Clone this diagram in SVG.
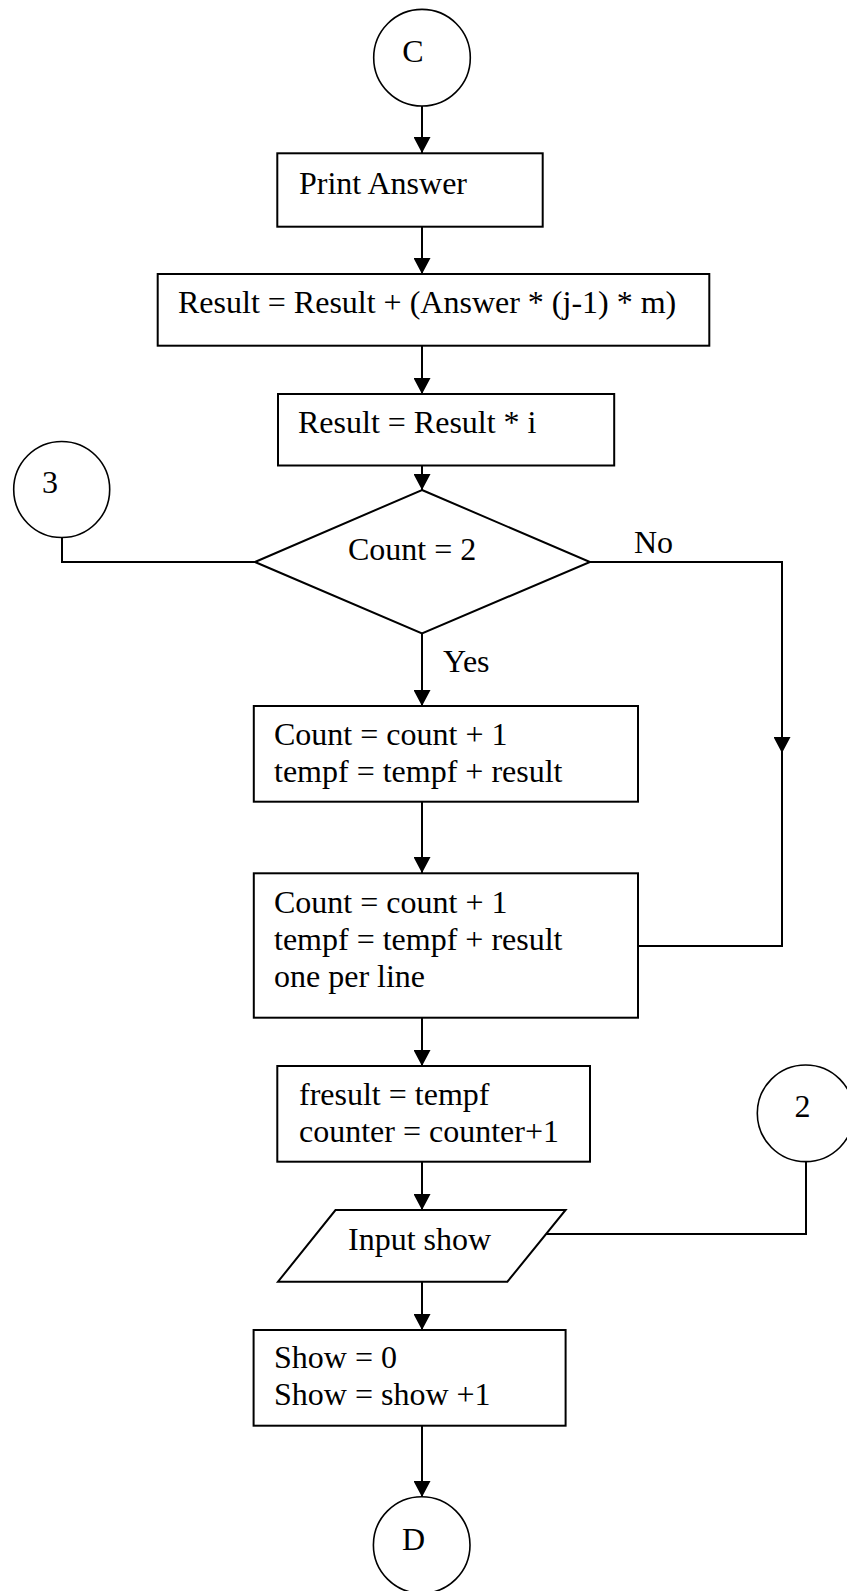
<svg xmlns="http://www.w3.org/2000/svg" width="847" height="1591" viewBox="0 0 847 1591">
  <style>
    .shape { fill: #ffffff; stroke: #000000; stroke-width: 2; }
    .conn { fill: none; stroke: #000000; stroke-width: 2; }
    .term { fill: #ffffff; stroke: #000000; stroke-width: 1.6; }
    text { font-family: "Liberation Serif", "Times New Roman", serif; font-size: 32px; fill: #000000; }
    .mid { text-anchor: middle; }
  </style>
  <defs>
    <marker id="arrow" markerUnits="userSpaceOnUse" markerWidth="16" markerHeight="17" refX="16" refY="8.5" orient="auto">
      <path d="M0,0 L16,8.5 L0,17 Z" fill="#000000"/>
    </marker>
  </defs>
  <rect width="847" height="1591" fill="#ffffff"/>

  <!-- connectors -->
  <g id="connectors">
    <line class="conn" x1="422" y1="106" x2="422" y2="153" marker-end="url(#arrow)"/>
    <line class="conn" x1="422" y1="227" x2="422" y2="274" marker-end="url(#arrow)"/>
    <line class="conn" x1="422" y1="346" x2="422" y2="394" marker-end="url(#arrow)"/>
    <line class="conn" x1="422" y1="466" x2="422" y2="490" marker-end="url(#arrow)"/>
    <line class="conn" x1="422" y1="633" x2="422" y2="706" marker-end="url(#arrow)"/>
    <line class="conn" x1="422" y1="802" x2="422" y2="873" marker-end="url(#arrow)"/>
    <line class="conn" x1="422" y1="1018" x2="422" y2="1066" marker-end="url(#arrow)"/>
    <line class="conn" x1="422" y1="1162" x2="422" y2="1210" marker-end="url(#arrow)"/>
    <line class="conn" x1="422" y1="1282" x2="422" y2="1330" marker-end="url(#arrow)"/>
    <line class="conn" x1="422" y1="1426" x2="422" y2="1497" marker-end="url(#arrow)"/>
    <!-- connector 3 joins the decision -->
    <path class="conn" d="M62,537 V562 H255"/>
    <!-- "No" branch -->
    <path class="conn" d="M590,562 H782 V753" marker-end="url(#arrow)"/>
    <path class="conn" d="M782,753 V946 H638"/>
    <!-- connector 2 joins the input -->
    <path class="conn" d="M806,1162 V1234 H541"/>
    <text x="634" y="553">No</text>
    <text x="443" y="672">Yes</text>
  </g>

  <g id="node-c">
    <circle class="term" cx="422" cy="57.7" r="48.3"/>
    <text class="mid" x="413" y="62">C</text>
  </g>

  <g id="node-print-answer">
    <rect class="shape" x="277.3" y="153.3" width="265.4" height="73.4"/>
    <text x="299" y="194">Print Answer</text>
  </g>

  <g id="node-result-sum">
    <rect class="shape" x="157.7" y="274" width="551.6" height="71.7"/>
    <text x="178" y="313">Result = Result + (Answer * (j-1) * m)</text>
  </g>

  <g id="node-result-mul">
    <rect class="shape" x="278" y="394" width="336.2" height="71.5"/>
    <text x="298" y="433">Result = Result * i</text>
  </g>

  <g id="node-decision">
    <polygon class="shape" points="422,490 590,562 422,633.3 255,562"/>
    <text x="348" y="560">Count = 2</text>
  </g>

  <g id="node-3">
    <circle class="term" cx="61.7" cy="489.5" r="48"/>
    <text class="mid" x="50" y="493">3</text>
  </g>

  <g id="node-count-a">
    <rect class="shape" x="253.8" y="706" width="384.2" height="95.7"/>
    <text x="274" y="745">Count = count + 1</text>
    <text x="274" y="782">tempf = tempf + result</text>
  </g>

  <g id="node-count-b">
    <rect class="shape" x="253.8" y="873.3" width="384.2" height="144.4"/>
    <text x="274" y="913">Count = count + 1</text>
    <text x="274" y="950">tempf = tempf + result</text>
    <text x="274" y="987">one per line</text>
  </g>

  <g id="node-fresult">
    <rect class="shape" x="277.3" y="1066" width="312.7" height="95.7"/>
    <text x="299" y="1105">fresult = tempf</text>
    <text x="299" y="1142">counter = counter+1</text>
  </g>

  <g id="node-2">
    <circle class="term" cx="805.6" cy="1113.3" r="48.3"/>
    <text class="mid" x="802.5" y="1117">2</text>
  </g>

  <g id="node-input-show">
    <polygon class="shape" points="335.5,1210 565.6,1210 507.4,1281.7 278,1281.7"/>
    <text x="348" y="1250">Input show</text>
  </g>

  <g id="node-show">
    <rect class="shape" x="253.6" y="1330" width="312" height="95.7"/>
    <text x="274" y="1368">Show = 0</text>
    <text x="274" y="1405">Show = show +1</text>
  </g>

  <g id="node-d">
    <circle class="term" cx="421.7" cy="1545" r="48.3"/>
    <text class="mid" x="413.5" y="1550">D</text>
  </g>
</svg>
